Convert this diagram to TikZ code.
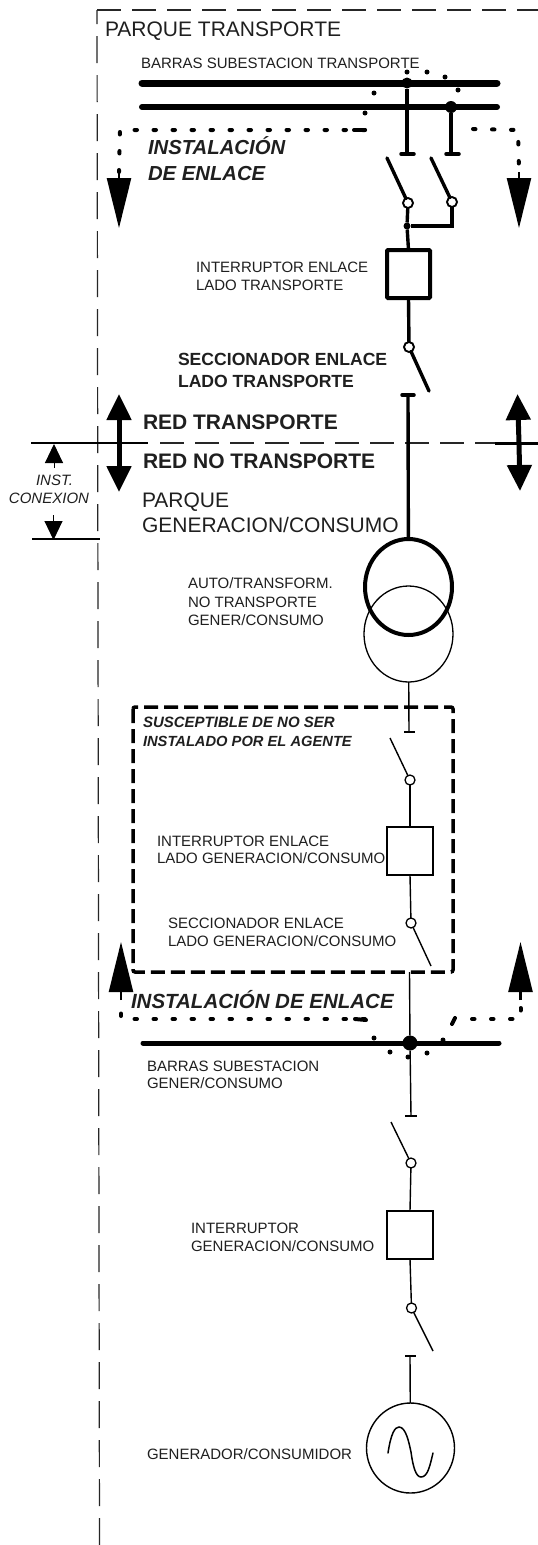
\documentclass[tikz,border=0pt]{standalone}
\usepackage{fontspec}
\setmainfont{Liberation Sans}
\usetikzlibrary{arrows.meta,shapes.geometric}
\newcommand{\fs}[1]{\fontsize{#1}{#1}\selectfont}
\tikzset{
 lbl/.style={anchor=base west,inner sep=0pt,outer sep=0pt,text=black!88},
 bl/.style={lbl,font=\bfseries},
 bi/.style={lbl,font=\bfseries\itshape},
 contact/.style={circle,draw=black,fill=white,line width=1.3pt,minimum size=10pt,inner sep=0pt,outer sep=0pt},
 contactb/.style={contact,line width=1.9pt},
 boxthin/.style={draw=black,fill=white,line width=1.5pt,minimum width=46pt,minimum height=48pt,inner sep=0pt,outer sep=0pt},
 boxthick/.style={boxthin,line width=4pt,minimum width=43pt,rounded corners=1pt},
 bar/.style={line width=7pt,line cap=round,black},
 thin wire/.style={line width=1.4pt,black},
 mid wire/.style={line width=3.4pt,black},
 frame/.style={line width=1.2pt,black!85,dash pattern=on 27pt off 12pt},
 frameh/.style={line width=1.2pt,black!85,dash pattern=on 24pt off 11pt},
 dotline/.style={line width=4pt,line cap=round,black,dash pattern=on 2.5pt off 16.5pt},
 blob/.style={circle,fill=black,minimum size=5pt,inner sep=0pt,outer sep=0pt},
 dot/.style={circle,fill=black,inner sep=0pt,outer sep=0pt},
 bigtip/.style={-{Triangle[length=50pt,width=24pt]},line width=2.5pt,black},
 midtip/.style={-{Triangle[length=26pt,width=24pt]},line width=5pt,black},
 smalltip/.style={-{Triangle[length=19pt,width=18pt]},line width=1pt,black},
 tbar/.style={line width=3.5pt,line cap=round,black},
 winding/.style={ellipse,draw=black,inner sep=0pt,outer sep=0pt},
}
\begin{document}
\begin{tikzpicture}[x=1pt,y=-1pt]
\useasboundingbox[fill=white] (0,0) rectangle (538,1545);
% frame
\coordinate (fb) at (99.5,1545); \coordinate (ft) at (97,10); \coordinate (fr) at (538,10);
\draw[frame] (fb) -- (ft);
\draw[frameh] (ft) -- (fr);
% section line
\coordinate (sl) at (31,443); \coordinate (slb) at (95,443); \coordinate (slc) at (148,443);
\coordinate (sld) at (495,443); \coordinate (sr) at (538,443);
\coordinate (sle) at (160,443);
\draw[line width=1.2pt,black] (sl) -- (slb);
\draw[line width=2.6pt,black] (slb) -- (slc);
\draw[frameh] (sle) -- (sld);
\draw[line width=3pt,black] (sld) -- (sr);
\coordinate (il) at (32,539); \coordinate (ir) at (100,539);
\draw[line width=1.2pt,black] (il) -- (ir);
% inst arrows
\coordinate (ia) at (54,468); \coordinate (iat) at (54,444);
\coordinate (ib) at (53.5,515); \coordinate (ibt) at (53.5,540);
\draw[smalltip] (ia) -- (iat);
\draw[smalltip] (ib) -- (ibt);
% double arrows
\coordinate (dl) at (119,443); \coordinate (dlu) at (119,394); \coordinate (dld) at (119,492);
\draw[midtip] (dl) -- (dlu); \draw[midtip] (dl) -- (dld);
\coordinate (dr) at (519,443); \coordinate (dru) at (517.5,394); \coordinate (drd) at (520,491);
\draw[midtip] (dr) -- (dru); \draw[midtip] (dr) -- (drd);
% top bars
\coordinate (b1a) at (142,83); \coordinate (b1b) at (497,83);
\coordinate (b2a) at (142,107); \coordinate (b2b) at (497,107);
\draw[bar] (b1a) -- (b1b);
\draw[bar,line width=6pt] (b2a) -- (b2b);
\node[dot,minimum size=11pt] (j1) at (407,83) {};
\node[dot,minimum size=12pt] (j2) at (451,107) {};
% disconnector tops
\coordinate (t1) at (407,154); \coordinate (t1a) at (401,154); \coordinate (t1b) at (414,154);
\coordinate (t2) at (451,154); \coordinate (t2a) at (446,154); \coordinate (t2b) at (459,154);
\draw[mid wire] (j1) -- (t1);
\draw[mid wire] (j2) -- (t2);
\draw[tbar] (t1a) -- (t1b);
\draw[tbar] (t2a) -- (t2b);
% contacts
\coordinate (s1) at (387,158); \coordinate (s2) at (431,158);
\node[dot,minimum size=7pt] (j3) at (407,226) {};
\coordinate (c2c) at (452,226);
\node[boxthick] (bx1) at (408.5,274) {};
\node[contactb] (c1) at (408,203) {};
\node[contactb] (c2) at (452,202) {};
\draw[mid wire,line cap=round] (s1) -- (c1);
\draw[mid wire,line cap=round] (s2) -- (c2);
\draw[mid wire] (c1) -- (j3) -- (bx1.north);
\draw[mid wire] (c2) -- (c2c) -- (j3);
% seccionador enlace
\node[contactb] (c3) at (409,347) {};
\coordinate (s3) at (429,391);
\coordinate (t3) at (408,395); \coordinate (t3a) at (402,395); \coordinate (t3b) at (414,395);
\draw[mid wire] (bx1.south) -- (c3);
\draw[mid wire,line cap=round] (c3) -- (s3);
\draw[tbar] (t3a) -- (t3b);
% transformer
\node[winding,line width=1.3pt,minimum width=89pt,minimum height=96pt] (tr2) at (408.5,634) {};
\node[winding,line width=4pt,minimum width=87pt,minimum height=96pt] (tr1) at (408.5,587) {};
\draw[mid wire] (t3) -- (tr1);
% susceptible box
\draw[line width=3.5pt,black,dash pattern=on 14pt off 6pt,rounded corners=2pt] (133,707) rectangle (453,972);
% lower bay
\coordinate (t4) at (409,732); \coordinate (t4a) at (404,732); \coordinate (t4b) at (415,732);
\draw[thin wire] (tr2) -- (t4);
\draw[thin wire] (t4a) -- (t4b);
\node[contact] (c4) at (410,780) {};
\coordinate (s4) at (390,738);
\draw[thin wire] (s4) -- (c4);
\node[boxthin] (bx2) at (410,851) {};
\draw[thin wire] (c4) -- (bx2.north);
\node[contact] (c5) at (411,923) {};
\coordinate (s5) at (431,966);
\draw[thin wire] (bx2.south) -- (c5);
\draw[thin wire] (c5) -- (s5);
% lower bar
\coordinate (b3a) at (143,1043); \coordinate (b3b) at (499,1043);
\coordinate (t5s) at (409.5,972);
\draw[bar,line width=5pt] (b3a) -- (b3b);
\node[dot,minimum size=15pt] (j4) at (410,1043) {};
\draw[thin wire] (t5s) -- (j4);
\coordinate (t6) at (411,1116); \coordinate (t6a) at (405,1116); \coordinate (t6b) at (417,1116);
\draw[thin wire] (j4) -- (t6);
\draw[thin wire] (t6a) -- (t6b);
\node[contact] (c6) at (411,1163) {};
\coordinate (s6) at (391,1122);
\draw[thin wire] (s6) -- (c6);
\node[boxthin] (bx3) at (410,1235) {};
\draw[thin wire] (c6) -- (bx3.north);
\node[contact] (c7) at (411.5,1308) {};
\coordinate (s7) at (433,1351);
\draw[thin wire] (bx3.south) -- (c7);
\draw[thin wire] (c7) -- (s7);
\coordinate (t7) at (410,1356); \coordinate (t7a) at (405,1356); \coordinate (t7b) at (416,1356);
\draw[thin wire] (t7a) -- (t7b);
\node[winding,line width=1.4pt,minimum width=88pt,minimum height=90pt] (gen) at (410.5,1448) {};
\draw[thin wire] (t7) -- (gen);
\draw[line width=1.5pt,line cap=round] (388,1453) .. controls (391,1433) and (395,1427) .. (399,1427) .. controls (406,1427) and (409,1443) .. (411,1452) .. controls (413,1467) and (416,1477) .. (421,1477) .. controls (428,1477) and (430,1465) .. (433,1453);
% dotted installation lines
\coordinate (d1) at (365,130); \coordinate (d2) at (120,130); \coordinate (d3) at (119,172); \coordinate (d4) at (119,228);
\draw[dotline] (d1) -- (d2) -- (d3);
\draw[bigtip] (d3) -- (d4);
\coordinate (d5) at (473,129); \coordinate (d6) at (518,130); \coordinate (d7) at (519,172); \coordinate (d8) at (519,228);
\draw[dotline] (d5) -- (d6) -- (d7);
\draw[bigtip] (d7) -- (d8);
\coordinate (d9) at (365,1019); \coordinate (d10) at (121,1019); \coordinate (d11) at (121,1000); \coordinate (d12) at (121,942);
\draw[dotline] (d9) -- (d10) -- (d11);
\draw[bigtip] (d11) -- (d12);
\coordinate (d13) at (472,1019); \coordinate (d14) at (520.5,1019); \coordinate (d15) at (520.5,1000); \coordinate (d16) at (520.5,942);
\draw[dotline] (d13) -- (d14) -- (d15);
\draw[bigtip] (d15) -- (d16);
% end dashes of the dotted lines
\coordinate (e1a) at (354,130); \coordinate (e1b) at (365,130);
\draw[line width=4pt,line cap=round] (e1a) -- (e1b);
\coordinate (e2a) at (355,1019); \coordinate (e2b) at (366,1020);
\draw[line width=4pt,line cap=round] (e2a) -- (e2b);
% blobs
\node[blob] (ba) at (374,93) {}; \node[blob] (bb) at (407,72) {}; \node[blob] (bc) at (427,72) {};
\node[blob] (bd) at (445,77) {}; \node[blob] (be) at (458,90) {}; \node[blob] (bf) at (365,113) {};
\node[blob] (bg) at (374,1038) {}; \node[blob] (bh) at (390,1052) {}; \node[blob] (bi) at (408,1057) {};
\node[blob] (bj) at (427,1053) {}; \node[blob] (bk) at (443,1040) {};
\coordinate (bla) at (452,1024); \coordinate (blb) at (455,1018);
\draw[line width=4pt,line cap=round] (bla) -- (blb);
% labels
\node[lbl,font=\fs{21}] (l1) at (105,36) {PARQUE TRANSPORTE};
\node[lbl,font=\fs{15}] (l2) at (141,68) {BARRAS SUBESTACION TRANSPORTE};
\node[bi,font=\bfseries\itshape\fs{20.3}] (l3) at (148,154) {INSTALACIÓN};
\node[bi,font=\bfseries\itshape\fs{20.3}] (l4) at (148,180) {DE ENLACE};
\node[lbl,font=\fs{15}] (l5) at (196,272) {INTERRUPTOR ENLACE};
\node[lbl,font=\fs{15}] (l6) at (196,290) {LADO TRANSPORTE};
\node[bl,font=\bfseries\fs{17.6}] (l7) at (178,365) {SECCIONADOR ENLACE};
\node[bl,font=\bfseries\fs{17.6}] (l8) at (178,387) {LADO TRANSPORTE};
\node[bl,font=\bfseries\fs{21}] (l9) at (143,429) {RED TRANSPORTE};
\node[bl,font=\bfseries\fs{21}] (l10) at (143,468) {RED NO TRANSPORTE};
\node[lbl,font=\itshape\fs{15}] (l11) at (36,485) {INST.};
\node[lbl,font=\itshape\fs{15}] (l12) at (9,503) {CONEXION};
\node[lbl,font=\fs{21}] (l13) at (142,507) {PARQUE};
\node[lbl,font=\fs{21}] (l14) at (142,532) {GENERACION/CONSUMO};
\node[lbl,font=\fs{15}] (l15) at (188,588) {AUTO/TRANSFORM.};
\node[lbl,font=\fs{15}] (l16) at (188,607) {NO TRANSPORTE};
\node[lbl,font=\fs{15}] (l17) at (188,625) {GENER/CONSUMO};
\node[bi,font=\bfseries\itshape\fs{15}] (l18) at (143,727) {SUSCEPTIBLE DE NO SER};
\node[bi,font=\bfseries\itshape\fs{14.7}] (l19) at (143,746) {INSTALADO POR EL AGENTE};
\node[lbl,font=\fs{15}] (l20) at (157,846) {INTERRUPTOR ENLACE};
\node[lbl,font=\fs{15}] (l21) at (157,863) {LADO GENERACION/CONSUMO};
\node[lbl,font=\fs{15}] (l22) at (168,928) {SECCIONADOR ENLACE};
\node[lbl,font=\fs{15}] (l23) at (168,946) {LADO GENERACION/CONSUMO};
\node[bi,font=\bfseries\itshape\fs{20.5}] (l24) at (131,1008) {INSTALACIÓN DE ENLACE};
\node[lbl,font=\fs{15}] (l25) at (147,1071) {BARRAS SUBESTACION};
\node[lbl,font=\fs{15}] (l26) at (147,1088) {GENER/CONSUMO};
\node[lbl,font=\fs{15}] (l27) at (191,1233) {INTERRUPTOR};
\node[lbl,font=\fs{15}] (l28) at (191,1251) {GENERACION/CONSUMO};
\node[lbl,font=\fs{15}] (l29) at (147,1459) {GENERADOR/CONSUMIDOR};
\end{tikzpicture}
\end{document}
